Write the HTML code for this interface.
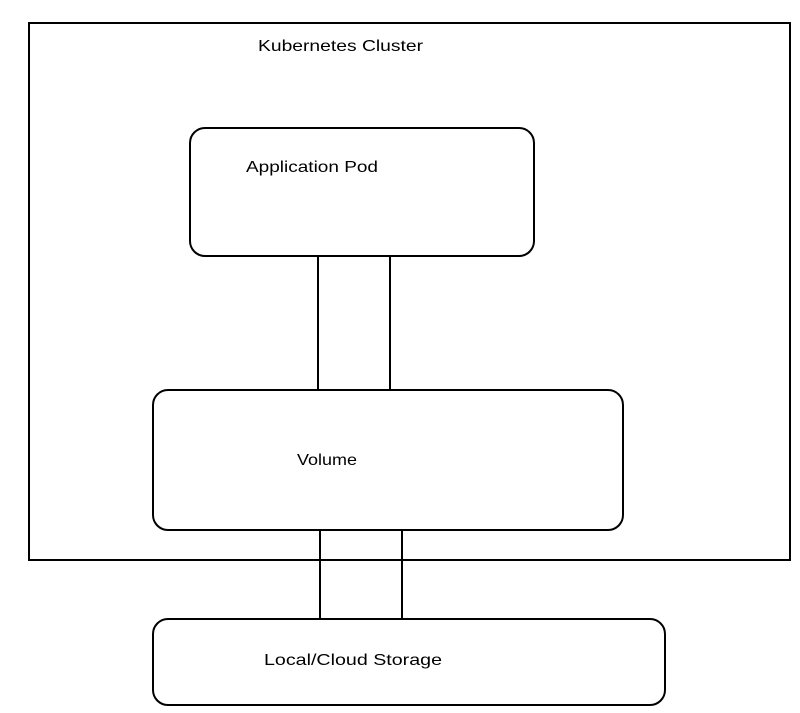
<!DOCTYPE html>
<html><head><style>html,body{margin:0;padding:0;background:#fff}</style></head>
<body>
<svg width="800" height="708" viewBox="0 0 800 708" xmlns="http://www.w3.org/2000/svg" font-family="'Comic Sans MS','Liberation Sans',sans-serif" font-size="16" fill="#000">
<rect width="800" height="708" fill="#fff"/>
<g fill="none" stroke="#000" stroke-width="2">
<rect x="29" y="23" width="761" height="537"/>
<rect x="190" y="128" width="344" height="128" rx="15"/>
<line x1="318" y1="256" x2="318" y2="390"/>
<line x1="390" y1="256" x2="390" y2="390"/>
<rect x="153" y="390" width="470" height="140" rx="15"/>
<line x1="320" y1="530" x2="320" y2="619"/>
<line x1="402" y1="530" x2="402" y2="619"/>
<rect x="153" y="619" width="512" height="86" rx="15"/>
</g>
<text x="258" y="51" textLength="165" lengthAdjust="spacingAndGlyphs">Kubernetes Cluster</text>
<text x="246" y="172" textLength="132" lengthAdjust="spacingAndGlyphs">Application Pod</text>
<text x="297" y="465" textLength="60" lengthAdjust="spacingAndGlyphs">Volume</text>
<text x="264" y="665" textLength="178" lengthAdjust="spacingAndGlyphs">Local/Cloud Storage</text>
</svg>
</body></html>
